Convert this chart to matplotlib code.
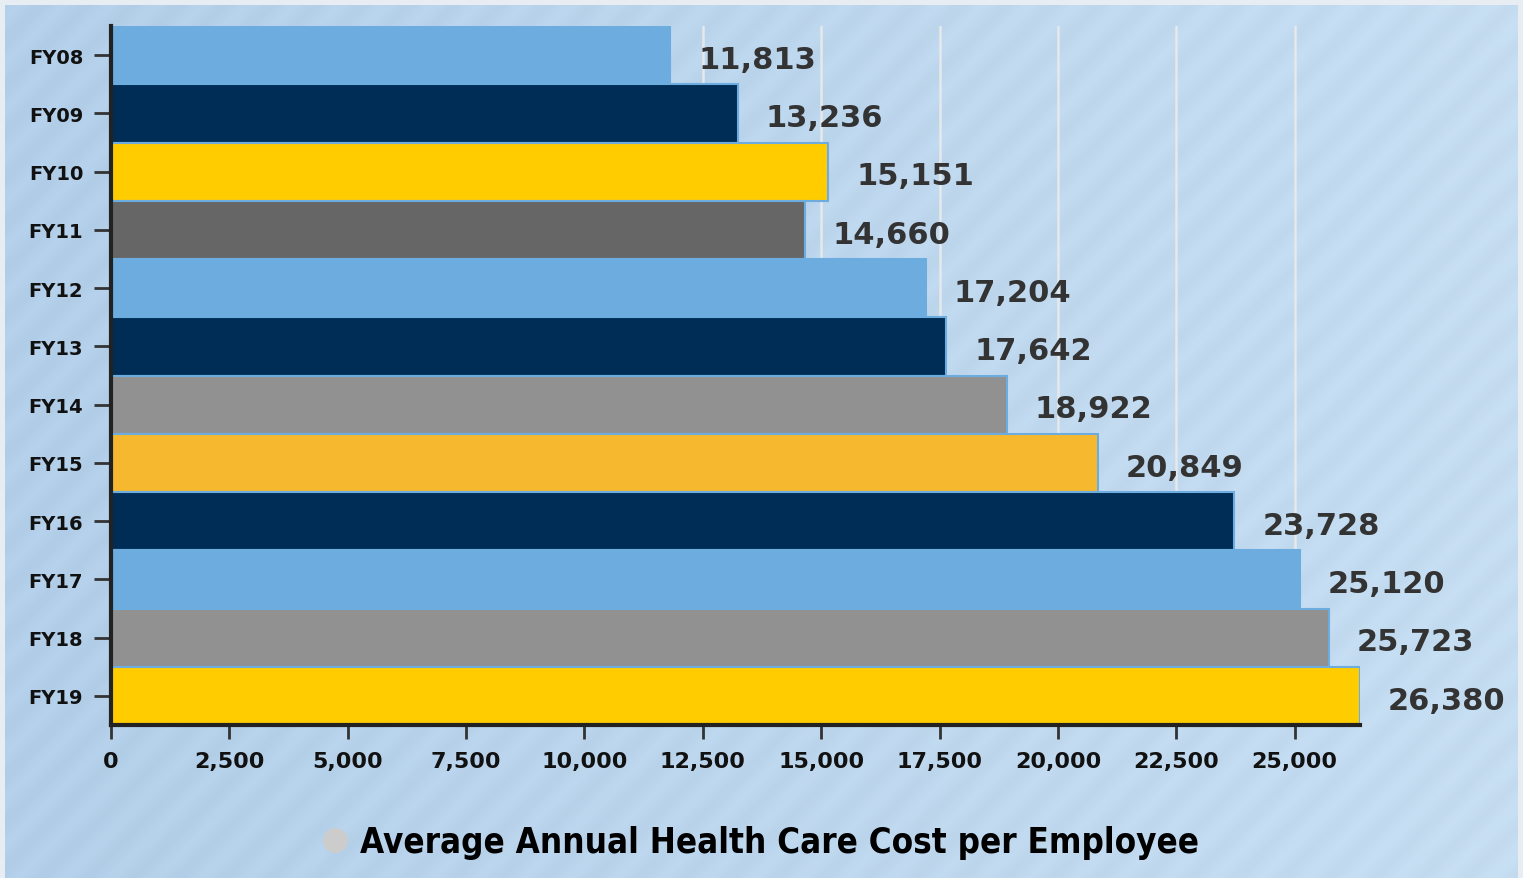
import numpy as np
import matplotlib
matplotlib.use('Agg')
import matplotlib.pyplot as plt
from matplotlib.lines import Line2D
from matplotlib.ticker import FuncFormatter

# data
years = ['FY08', 'FY09', 'FY10', 'FY11', 'FY12', 'FY13', 'FY14', 'FY15', 'FY16', 'FY17', 'FY18', 'FY19']
costs = [11813, 13236, 15151, 14660, 17204, 17642, 18922, 20849, 23728, 25120, 25723, 26380]
bar_colors = ['#6dacde', '#002d56', '#ffcc00', '#666666', '#6dacde', '#002d56',
              '#919191', '#f6b82e', '#002d56', '#6dacde', '#919191', '#ffcc00']
x_ticks = np.arange(0, 25001, 2500)
legend_label = 'Average Annual Health Care Cost per Employee'

W, H = 1523, 879
fig = plt.figure(figsize=(W / 100, H / 100), dpi=100)
fig.patch.set_facecolor('#e8edf3')

# striped panel background
bg = fig.add_axes([5 / W, 0, (1518 - 5) / W, (H - 6) / H])
bw, bh = 1513, 873
cols = np.arange(bw)[None, :]
rows = np.arange(bh)[:, None]
period = 46.0
phase = ((cols + rows) % period) / period
stripe = 0.5 + 0.5 * np.sin(2 * np.pi * phase)
grad = cols / bw
base = np.array([0.690, 0.800, 0.902])   # left side tone
right = np.array([0.765, 0.858, 0.937])  # right side tone
img = base[None, None, :] + (right - base)[None, None, :] * grad[..., None]
img = img + 0.02 * stripe[..., None]
bg.imshow(np.clip(img, 0, 1), aspect='auto', interpolation='bilinear')
bg.set_axis_off()

ax = fig.add_axes([111 / W, 1 - 726 / H, (1360 - 111) / W, (726 - 27) / H])
ax.set_facecolor('none')

y = np.arange(len(years))
ax.barh(y, costs, height=1.0, color=bar_colors, edgecolor='#6dacde', linewidth=1.5, zorder=3)

for yi, v in zip(y, costs):
    ax.annotate('{:,}'.format(v), xy=(v, yi), xytext=(20, -3), textcoords='offset points',
                ha='left', va='center', fontsize=22, fontweight='bold', color='#333333',
                annotation_clip=False)

ax.set_ylim(len(years) - 0.5, -0.5)
ax.set_xlim(0, max(costs))
ax.set_yticks(y)
ax.set_yticklabels(years)
ax.set_xticks(x_ticks)
ax.xaxis.set_major_formatter(FuncFormatter(lambda v, p: '{:,}'.format(int(v))))

ax.grid(True, axis='x', color='#e6e8eb', linewidth=1.8, zorder=0)
ax.set_axisbelow(True)

for s in ['top', 'right']:
    ax.spines[s].set_visible(False)
for s in ['left', 'bottom']:
    ax.spines[s].set_color('#222222')
    ax.spines[s].set_linewidth(3)
    ax.spines[s].set_zorder(4)

ax.tick_params(axis='y', length=12, width=2, color='#333333', pad=8, labelsize=14)
ax.tick_params(axis='x', length=10, width=2, color='#333333', pad=9, labelsize=16)
for lab in ax.get_yticklabels() + ax.get_xticklabels():
    lab.set_fontweight('bold')
    lab.set_color('#111111')

handle = Line2D([], [], marker='o', linestyle='', color='#cccccc', markersize=17)
fig.legend(handles=[handle], labels=[legend_label], loc='center',
           bbox_to_anchor=(0.5 - 12 / W, 1 - 843 / H), frameon=False, handletextpad=-0.3,
           prop={'family': 'DejaVu Sans', 'stretch': 'condensed', 'weight': 'bold', 'size': 25})

fig.savefig('out.png', dpi=100, facecolor=fig.get_facecolor())
